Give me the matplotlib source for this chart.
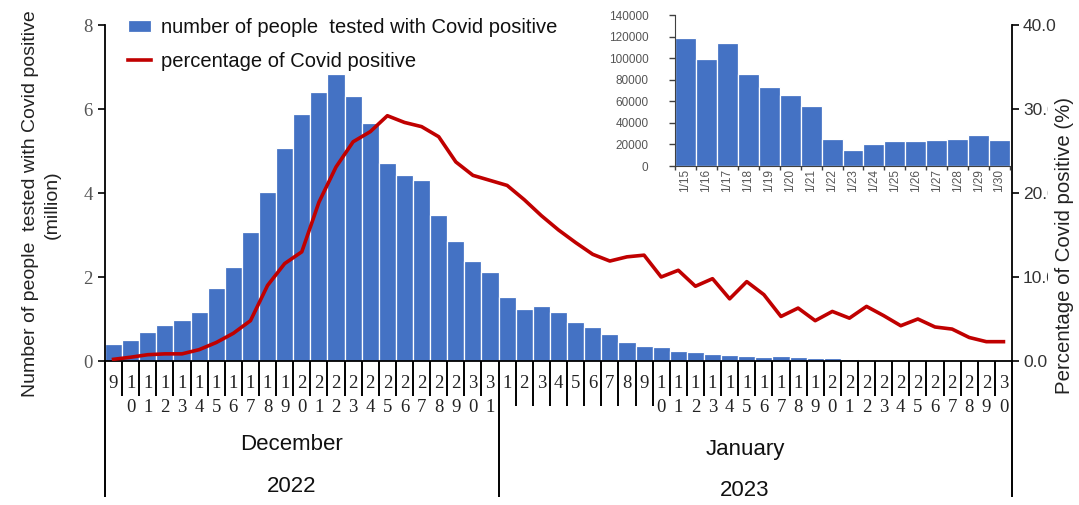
import matplotlib
matplotlib.use("Agg")
import matplotlib.pyplot as plt
import matplotlib.transforms as mtransforms

# ---------------- data ----------------
dec_days = list(range(9, 32))
jan_days = list(range(1, 31))
day_labels = [str(d) for d in dec_days] + [str(d) for d in jan_days]

cases_million = [0.40, 0.49, 0.70, 0.85, 0.98, 1.17, 1.73, 2.25, 3.06, 4.02, 5.08, 5.87,
                 6.41, 6.83, 6.30, 5.66, 4.71, 4.44, 4.31, 3.48, 2.86, 2.37, 2.12,
                 1.53, 1.24, 1.30, 1.17, 0.92, 0.81, 0.64, 0.46, 0.36, 0.33, 0.25, 0.21,
                 0.17, 0.14, 0.119, 0.099, 0.114, 0.086, 0.074, 0.066, 0.056, 0.025,
                 0.015, 0.020, 0.023, 0.023, 0.024, 0.025, 0.029, 0.024]

positive_pct = [0.2, 0.45, 0.75, 0.85, 0.85, 1.35, 2.2, 3.3, 4.8, 9.0, 11.6, 13.0,
                18.9, 23.1, 26.1, 27.3, 29.2, 28.4, 27.9, 26.7, 23.7, 22.1, 21.5,
                20.9, 19.2, 17.3, 15.6, 14.1, 12.7, 11.9, 12.4, 12.6, 10.0, 10.8, 8.9,
                9.8, 7.4, 9.45, 7.9, 5.3, 6.3, 4.8, 5.9, 5.1, 6.5, 5.4, 4.2, 5.0, 4.05,
                3.8, 2.8, 2.3, 2.3]

inset_labels = ["1/15", "1/16", "1/17", "1/18", "1/19", "1/20", "1/21", "1/22",
                "1/23", "1/24", "1/25", "1/26", "1/27", "1/28", "1/29", "1/30"]
inset_counts = [119000, 98900, 114400, 85600, 73600, 65800, 55600, 24700,
                14500, 20400, 22900, 22900, 24400, 25000, 28700, 23800]

left_ticks = [0, 2, 4, 6, 8]
right_ticks = [0, 10, 20, 30, 40]
inset_ticks = [0, 20000, 40000, 60000, 80000, 100000, 120000, 140000]

BLUE = "#4472C4"
RED = "#C00000"
SANS = "Liberation Sans"
SERIF = "Liberation Serif"

W, H = 1079, 505
fig = plt.figure(figsize=(W / 100, H / 100), dpi=100)

def fx(px):
    return px / W

def fy(py):
    return 1 - py / H

x0, x1, ytop, ybot = 105, 1012, 25, 361
ax = fig.add_axes([fx(x0), fy(ybot), (x1 - x0) / W, (ybot - ytop) / H])
n = len(day_labels)
xs = list(range(n))
bars = ax.bar(xs, cases_million, width=1.0, color=BLUE, edgecolor="white", linewidth=0.9,
              label="number of people  tested with Covid positive")
ax.set_xlim(-0.5, n - 0.5)
ax.set_ylim(0, 8)
ax.set_yticks(left_ticks)
ax.set_yticklabels([str(t) for t in left_ticks], family=SERIF, fontsize=13.5, color="#555555")
ax.tick_params(axis="y", direction="out", length=5, width=1.2, color="black", pad=4)
ax.set_xticks([])
for s in ["top", "right"]:
    ax.spines[s].set_visible(False)
ax.spines["left"].set_linewidth(1.3)
ax.spines["bottom"].set_linewidth(1.3)

ax2 = ax.twinx()
line, = ax2.plot(xs, positive_pct, color=RED, linewidth=2.6, solid_joinstyle="round",
                 label="percentage of Covid positive")
ax2.set_ylim(0, 40)
ax2.set_yticks(right_ticks)
ax2.set_yticklabels([f"{t:.1f}" for t in right_ticks], family=SANS, fontsize=12.5, color="#333333")
ax2.tick_params(axis="y", direction="out", length=5, width=1.2, color="black", pad=3)
for s in ["top", "left", "bottom"]:
    ax2.spines[s].set_visible(False)
ax2.spines["right"].set_linewidth(1.3)

leg = ax2.legend(handles=[bars, line], loc="upper left",
                 bbox_to_anchor=(fx(128), fy(18)), bbox_transform=fig.transFigure,
                 frameon=False, prop={"family": SANS, "size": 14.5},
                 handlelength=1.15, handleheight=0.6, handletextpad=0.5,
                 labelspacing=0.75, borderaxespad=0, borderpad=0)
for t in leg.get_texts():
    t.set_color("#111111")

# ------------- category table under the x axis -------------
trans = mtransforms.blended_transform_factory(ax.transData, fig.transFigure)
jan_start = len(dec_days)
for i in range(n + 1):
    xb = i - 0.5
    if i in (0, jan_start, n):
        yend = 497
    elif jan_start + 1 <= i <= jan_start + 9:
        yend = 406
    else:
        yend = 396
    ax.plot([xb, xb], [fy(ybot), fy(yend)], transform=trans, color="black",
            linewidth=1.4, clip_on=False, solid_capstyle="butt")

for i, lab in enumerate(day_labels):
    ax.text(i, fy(383), lab[0], transform=trans, ha="center", va="center",
            family=SERIF, fontsize=13.5, color="#222222")
    if len(lab) > 1:
        ax.text(i, fy(407), lab[1], transform=trans, ha="center", va="center",
                family=SERIF, fontsize=13.5, color="#222222")

ax.text(10.4, fy(444), "December", transform=trans, ha="center", va="center",
        family=SANS, fontsize=16, color="#111111")
ax.text(10.4, fy(487), "2022", transform=trans, ha="center", va="center",
        family=SANS, fontsize=16, color="#111111")
ax.text(36.9, fy(450), "January", transform=trans, ha="center", va="center",
        family=SANS, fontsize=16, color="#111111")
ax.text(36.9, fy(490), "2023", transform=trans, ha="center", va="center",
        family=SANS, fontsize=16, color="#111111")

# ------------- axis titles -------------
fig.text(fx(31), fy(204), "Number of people  tested with Covid positive", rotation=90,
         ha="center", va="center", family=SANS, fontsize=14, color="#222222")
fig.text(fx(52), fy(205), "(million)", rotation=90,
         ha="center", va="center", family=SANS, fontsize=14, color="#222222")
fig.text(fx(1064), fy(246), "Percentage of Covid positive (%)", rotation=90,
         ha="center", va="center", family=SANS, fontsize=14.7, color="#222222",
         bbox=dict(facecolor="white", edgecolor="none", pad=5))

# ------------- inset -------------
ix0, ix1, iy0, iy1 = 675, 1010, 15, 166
axi = fig.add_axes([fx(ix0), fy(iy1), (ix1 - ix0) / W, (iy1 - iy0) / H])
axi.set_facecolor("white")
ni = len(inset_labels)
axi.bar(range(ni), inset_counts, width=1.0, color=BLUE, edgecolor="white", linewidth=0.9)
axi.set_xlim(-0.5, ni - 0.5)
axi.set_ylim(0, 140000)
axi.set_yticks(inset_ticks)
axi.set_yticklabels([str(t) for t in inset_ticks], family=SANS, fontsize=8.5, color="#555555")
axi.set_xticks(range(ni))
axi.set_xticklabels(inset_labels, rotation=90, family=SANS, fontsize=8.5, color="#555555")
axi.set_xticks([i - 0.5 for i in range(ni + 1)], minor=True)
axi.tick_params(axis="x", which="major", length=0, pad=2)
axi.tick_params(axis="x", which="minor", length=3, width=1, color="#404040", direction="out")
axi.tick_params(axis="y", length=4, width=1, color="#404040", direction="out", pad=15)
for s in ["top", "right"]:
    axi.spines[s].set_visible(False)
axi.spines["left"].set_color("#404040")
axi.spines["bottom"].set_color("#404040")

fig.savefig("out.png", dpi=100, facecolor="white")
